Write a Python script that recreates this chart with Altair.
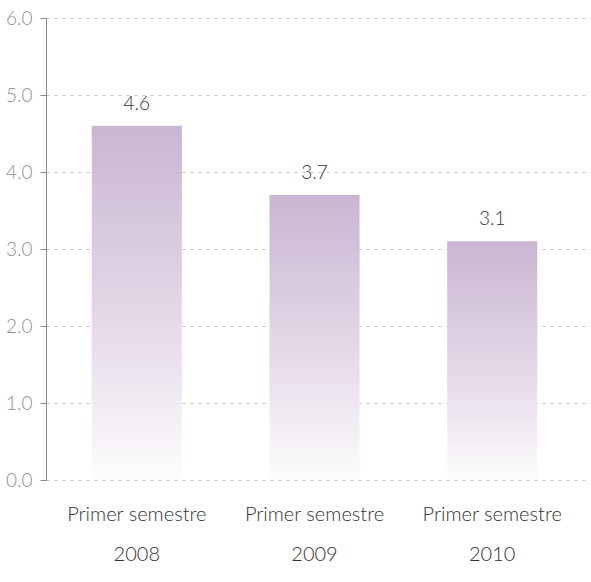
import altair as alt
import pandas as pd

periods = ["Primer semestre", "Primer semestre", "Primer semestre"]
years = ["2008", "2009", "2010"]
values = [4.6, 3.7, 3.1]
y_ticks = [0, 1, 2, 3, 4, 5, 6]

df = pd.DataFrame({"period": periods, "year": years, "value": values})
df["label"] = df["value"].map(lambda v: f"{v:.1f}")

FONT = "Lato"

x = alt.X(
    "year:N",
    title=None,
    sort=years,
    scale=alt.Scale(paddingInner=0.493, paddingOuter=0.28, align=0.46),
    axis=alt.Axis(
        labelExpr="['Primer semestre', datum.label]",
        labelAngle=0,
        domain=False,
        ticks=False,
        labelPadding=24,
        labelFontSize=20,
        labelFontWeight=300,
        labelColor="#333333",
        labelFont=FONT,
        labelLineHeight=40,
    ),
)
y = alt.Y(
    "value:Q",
    title=None,
    scale=alt.Scale(domain=[0, 6], nice=False),
    axis=alt.Axis(
        values=y_ticks,
        format=".1f",
        grid=True,
        gridDash=[3, 5],
        gridColor="#c4c4c4",
        domainColor="#8a8a8a",
        tickColor="#8a8a8a",
        tickSize=6,
        labelFontSize=19,
        labelFontWeight=300,
        labelColor="#909090",
        labelFont=FONT,
        labelPadding=8,
    ),
)

grad = alt.Gradient(
    gradient="linear",
    stops=[
        alt.GradientStop(color="#cab6d2", offset=0),
        alt.GradientStop(color="#e4d9e8", offset=0.55),
        alt.GradientStop(color="#fdfcfd", offset=1),
    ],
    x1=0, x2=0, y1=0, y2=1,
)

bars = alt.Chart(df).mark_bar(color=grad).encode(x=x, y=y)
text = alt.Chart(df).mark_text(
    dy=-12, fontSize=19, fontWeight=300, font=FONT, color="#333333", baseline="bottom"
).encode(x=alt.X("year:N", sort=years), y="value:Q", text="label:N")

chart = (
    alt.layer(bars, text)
    .properties(
        width=545,
        height=462,
        autosize=alt.AutoSizeParams(type="none"),
        padding={"left": 46, "top": 18, "right": 0, "bottom": 102},
    )
    .configure_view(stroke=None)
)

chart.save("out.html", embed_options={"renderer": "svg", "actions": False})
